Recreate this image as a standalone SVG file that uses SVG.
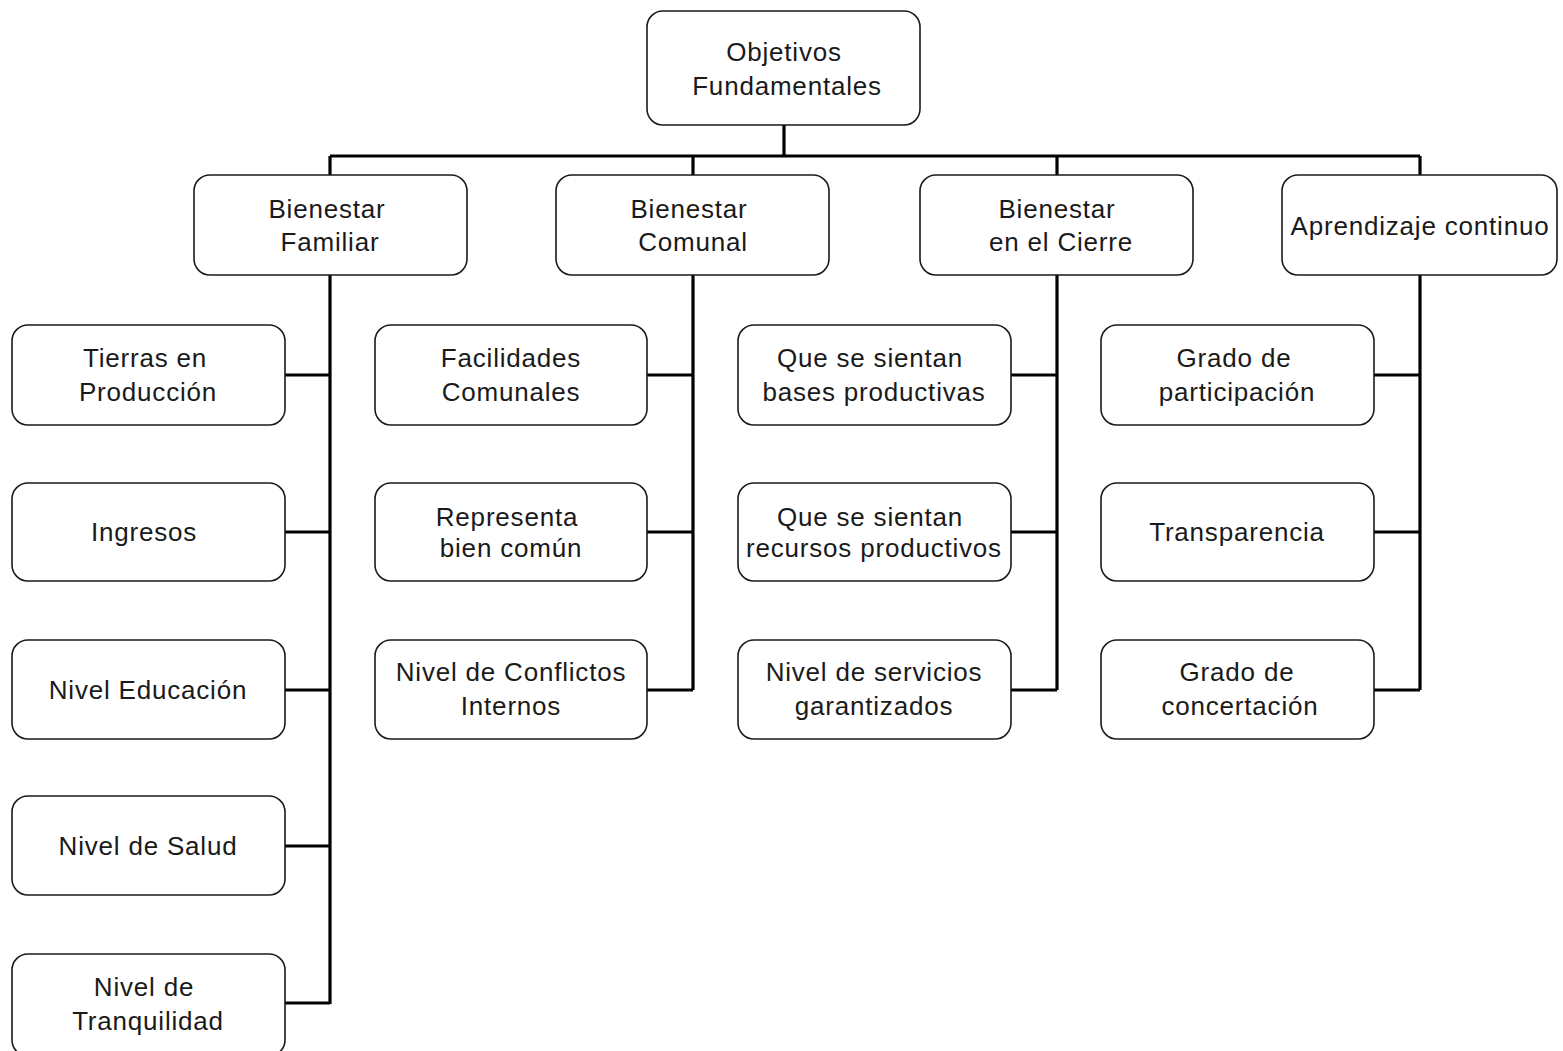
<svg xmlns="http://www.w3.org/2000/svg" width="1563" height="1051" viewBox="0 0 1563 1051">
<style>
.box{fill:#fff;stroke:#1a1a1a;stroke-width:1.6}
.t{font-family:"Liberation Sans",Arial,sans-serif;font-size:26px;letter-spacing:0.8px;fill:#1a1a1a;text-anchor:middle}
.c{fill:none;stroke:#000;stroke-width:3.2}
</style>
<rect width="1563" height="1051" fill="#fff"/>
<g id="connectors">
<path class="c" d="M784 125V156M330 156H1420M330 156V175M693 156V175M1057 156V175M1420 156V175"/>
<path class="c" d="M330 275V1004M285 375H330M285 532H330M285 690H330M285 846H330M285 1003H330"/>
<path class="c" d="M693 275V690M647 375H693M647 532H693M647 690H693"/>
<path class="c" d="M1057 275V690M1011 375H1057M1011 532H1057M1011 690H1057"/>
<path class="c" d="M1420 275V690M1374 375H1420M1374 532H1420M1374 690H1420"/>
</g>
<g id="root"><rect class="box" x="647" y="11" width="273" height="114" rx="16"/><text class="t" x="784" y="61">Objetivos</text><text class="t" x="787" y="95">Fundamentales</text></g>
<g id="bf"><rect class="box" x="194" y="175" width="273" height="100" rx="16"/><text class="t" x="327" y="218">Bienestar</text><text class="t" x="330" y="251">Familiar</text></g>
<g id="bc"><rect class="box" x="556" y="175" width="273" height="100" rx="16"/><text class="t" x="689" y="218">Bienestar</text><text class="t" x="693" y="251">Comunal</text></g>
<g id="bci"><rect class="box" x="920" y="175" width="273" height="100" rx="16"/><text class="t" x="1057" y="218">Bienestar</text><text class="t" x="1061" y="251">en el Cierre</text></g>
<g id="ac"><rect class="box" x="1282" y="175" width="275" height="100" rx="16"/><text class="t" x="1420" y="235">Aprendizaje continuo</text></g>

<g id="n11"><rect class="box" x="12" y="325" width="273" height="100" rx="16"/><text class="t" x="145" y="367">Tierras en</text><text class="t" x="148" y="401">Producción</text></g>
<g id="n12"><rect class="box" x="12" y="483" width="273" height="98" rx="16"/><text class="t" x="144" y="541">Ingresos</text></g>
<g id="n13"><rect class="box" x="12" y="640" width="273" height="99" rx="16"/><text class="t" x="148" y="699">Nivel Educación</text></g>
<g id="n14"><rect class="box" x="12" y="796" width="273" height="99" rx="16"/><text class="t" x="148" y="855">Nivel de Salud</text></g>
<g id="n15"><rect class="box" x="12" y="954" width="273" height="102" rx="16"/><text class="t" x="144" y="996">Nivel de</text><text class="t" x="148" y="1030">Tranquilidad</text></g>

<g id="n21"><rect class="box" x="375" y="325" width="272" height="100" rx="16"/><text class="t" x="511" y="367">Facilidades</text><text class="t" x="511" y="401">Comunales</text></g>
<g id="n22"><rect class="box" x="375" y="483" width="272" height="98" rx="16"/><text class="t" x="507" y="526">Representa</text><text class="t" x="511" y="557">bien común</text></g>
<g id="n23"><rect class="box" x="375" y="640" width="272" height="99" rx="16"/><text class="t" x="511" y="681">Nivel de Conflictos</text><text class="t" x="511" y="715">Internos</text></g>

<g id="n31"><rect class="box" x="738" y="325" width="273" height="100" rx="16"/><text class="t" x="870" y="367">Que se sientan</text><text class="t" x="874" y="401">bases productivas</text></g>
<g id="n32"><rect class="box" x="738" y="483" width="273" height="98" rx="16"/><text class="t" x="870" y="526">Que se sientan</text><text class="t" x="874" y="557">recursos productivos</text></g>
<g id="n33"><rect class="box" x="738" y="640" width="273" height="99" rx="16"/><text class="t" x="874" y="681">Nivel de servicios</text><text class="t" x="874" y="715">garantizados</text></g>

<g id="n41"><rect class="box" x="1101" y="325" width="273" height="100" rx="16"/><text class="t" x="1234" y="367">Grado de</text><text class="t" x="1237" y="401">participación</text></g>
<g id="n42"><rect class="box" x="1101" y="483" width="273" height="98" rx="16"/><text class="t" x="1237" y="541">Transparencia</text></g>
<g id="n43"><rect class="box" x="1101" y="640" width="273" height="99" rx="16"/><text class="t" x="1237" y="681">Grado de</text><text class="t" x="1240" y="715">concertación</text></g>
</svg>
